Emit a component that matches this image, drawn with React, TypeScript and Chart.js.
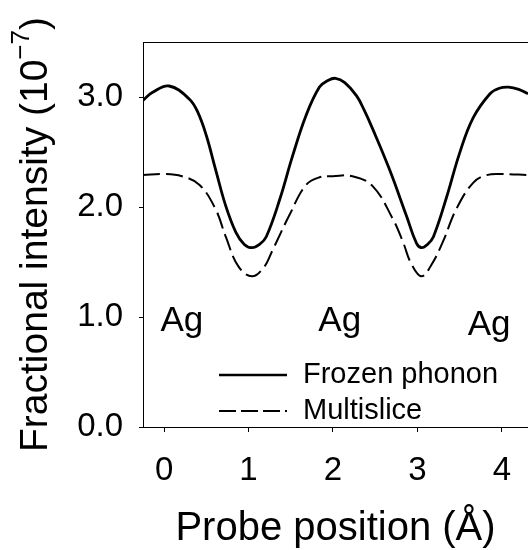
import React, { useEffect, useRef } from "react";
import { Chart, registerables } from "chart.js";

Chart.register(...registerables);

const FONT = "'Liberation Sans', Arial, sans-serif";

// Frozen phonon (solid)
const frozenX = [-0.25, -0.14, 0.06, 0.3, 0.4, 0.5, 0.61, 0.73, 0.85, 0.95, 1.04, 1.13, 1.21, 1.37, 1.52, 1.68, 1.84, 1.94, 2.03, 2.14, 2.28, 2.37, 2.47, 2.67, 2.87, 2.99, 3.05, 3.12, 3.19, 3.35, 3.5, 3.66, 3.86, 3.97, 4.08, 4.2, 4.31];
const frozenY = [2.97, 3.04, 3.1, 2.98, 2.86, 2.65, 2.34, 2.01, 1.77, 1.66, 1.63, 1.66, 1.73, 2.07, 2.46, 2.83, 3.09, 3.15, 3.17, 3.13, 3.01, 2.88, 2.71, 2.34, 1.92, 1.67, 1.63, 1.66, 1.73, 2.1, 2.49, 2.81, 3.03, 3.08, 3.09, 3.07, 3.03];

// Multislice (dashed)
const multiX = [-0.25, 0.0, 0.21, 0.42, 0.61, 0.73, 0.88, 1.04, 1.18, 1.28, 1.48, 1.68, 1.84, 2.0, 2.23, 2.47, 2.71, 2.83, 2.93, 3.05, 3.17, 3.3, 3.46, 3.66, 3.82, 4.0, 4.31];
const multiY = [2.29, 2.3, 2.28, 2.2, 1.98, 1.73, 1.46, 1.37, 1.45, 1.6, 1.92, 2.2, 2.27, 2.28, 2.28, 2.19, 1.89, 1.68, 1.48, 1.37, 1.48, 1.68, 1.98, 2.22, 2.29, 2.3, 2.29];

const seriesNames = ["Frozen phonon", "Multislice"];

const xMin = -0.25;
const xMax = 4.31;
const yMin = 0;
const yMax = 3.5;
const xTickStep = 1;
const yTickStep = 1;

const atomLabels = ["Ag", "Ag", "Ag"];
const atomX = [0.21, 2.08, 3.85];
const atomY = [0.964, 0.964, 0.92];

const xTitle = "Probe position (Å)";
const yTitleMain = "Fractional intensity (10";
const yTitleSup = "\u22127";
const yTitleEnd = ")";

const overlayPlugin = {
  id: "overlay",
  afterDraw(chart: any) {
    const { ctx, chartArea, scales } = chart;
    ctx.save();
    ctx.fillStyle = "#000";
    ctx.strokeStyle = "#000";

    // top frame line
    ctx.lineWidth = 1;
    ctx.beginPath();
    ctx.moveTo(chartArea.left, chartArea.top + 0.5);
    ctx.lineTo(chartArea.right, chartArea.top + 0.5);
    ctx.stroke();

    // atom labels
    ctx.font = `35px ${FONT}`;
    ctx.textAlign = "center";
    ctx.textBaseline = "middle";
    atomLabels.forEach((t, i) => {
      ctx.fillText(t, scales.x.getPixelForValue(atomX[i]), scales.y.getPixelForValue(atomY[i]));
    });

    // legend
    const lx0 = chartArea.left + 76;
    const lx1 = chartArea.left + 144;
    const tx = chartArea.left + 160;
    const rows = [chartArea.top + 333, chartArea.top + 369];
    ctx.font = `29px ${FONT}`;
    ctx.textAlign = "left";
    ctx.textBaseline = "middle";
    seriesNames.forEach((name, i) => {
      ctx.beginPath();
      ctx.lineWidth = i === 0 ? 2.5 : 2;
      ctx.setLineDash(i === 0 ? [] : [17, 5]);
      ctx.moveTo(lx0, rows[i]);
      ctx.lineTo(lx1, rows[i]);
      ctx.stroke();
      ctx.setLineDash([]);
      ctx.fillText(name, tx, rows[i]);
    });

    // y title with superscript
    const mainFont = `39px ${FONT}`;
    const supFont = `26px ${FONT}`;
    ctx.font = mainFont;
    const w1 = ctx.measureText(yTitleMain).width;
    const w3 = ctx.measureText(yTitleEnd).width;
    ctx.font = supFont;
    const w2 = ctx.measureText(yTitleSup).width;
    const total = w1 + w2 + w3;
    const cy = (chartArea.top + chartArea.bottom) / 2;
    ctx.translate(47, cy);
    ctx.rotate(-Math.PI / 2);
    ctx.textAlign = "left";
    ctx.textBaseline = "alphabetic";
    let x = -total / 2;
    ctx.font = mainFont;
    ctx.fillText(yTitleMain, x, 0);
    x += w1;
    ctx.font = supFont;
    ctx.fillText(yTitleSup, x, -18);
    x += w2;
    ctx.font = mainFont;
    ctx.fillText(yTitleEnd, x, 0);
    ctx.restore();
  },
};

export default function App() {
  const canvasRef = useRef<HTMLCanvasElement | null>(null);

  useEffect(() => {
    const canvas = canvasRef.current;
    if (!canvas) return;
    const chart = new Chart(canvas, {
      type: "line",
      data: {
        datasets: [
          {
            label: seriesNames[0],
            data: frozenX.map((x, i) => ({ x, y: frozenY[i] })),
            borderColor: "#000",
            borderWidth: 2.8,
            pointRadius: 0,
            tension: 0.4,
            fill: false,
          },
          {
            label: seriesNames[1],
            data: multiX.map((x, i) => ({ x, y: multiY[i] })),
            borderColor: "#000",
            borderWidth: 2,
            borderDash: [17, 6],
            pointRadius: 0,
            tension: 0.4,
            fill: false,
          },
        ],
      },
      options: {
        responsive: false,
        animation: false,
        layout: { padding: { top: 42, left: 0, right: 0, bottom: 0 } },
        plugins: {
          legend: { display: false },
          tooltip: { enabled: false },
        },
        scales: {
          x: {
            type: "linear",
            min: xMin,
            max: xMax,
            afterFit: (s: any) => {
              s.height = 123;
              s.paddingLeft = 0;
              s.paddingRight = 0;
            },
            border: { display: true, color: "#000", width: 1 },
            grid: {
              display: true,
              drawOnChartArea: false,
              drawTicks: true,
              tickLength: 5,
              color: "#000",
              lineWidth: 1,
            },
            ticks: {
              stepSize: xTickStep,
              includeBounds: false,
              color: "#000",
              padding: 22,
              maxRotation: 0,
              font: { family: FONT, size: 33, lineHeight: 1 },
              callback: (v: any) => String(v),
            },
            title: {
              display: true,
              text: xTitle,
              color: "#000",
              font: { family: FONT, size: 40, lineHeight: 1 },
              padding: { top: 0, bottom: 1 },
            },
          },
          y: {
            type: "linear",
            min: yMin,
            max: yMax,
            afterFit: (s: any) => {
              s.width = 143;
              s.paddingTop = 0;
              s.paddingBottom = 0;
            },
            border: { display: true, color: "#000", width: 1 },
            grid: {
              display: true,
              drawOnChartArea: false,
              drawTicks: true,
              tickLength: 4,
              color: "#000",
              lineWidth: 1,
            },
            ticks: {
              stepSize: yTickStep,
              includeBounds: false,
              color: "#000",
              padding: 16,
              font: { family: FONT, size: 33, lineHeight: 1 },
              callback: (v: any) => Number(v).toFixed(1),
            },
            title: { display: false },
          },
        },
      },
      plugins: [overlayPlugin],
    } as any);
    return () => chart.destroy();
  }, []);

  return (
    <div style={{ position: "fixed", left: 0, top: 0, width: 528, height: 550, background: "#fff" }}>
      <canvas ref={canvasRef} width={528} height={550} style={{ display: "block", width: 528, height: 550 }} />
    </div>
  );
}
